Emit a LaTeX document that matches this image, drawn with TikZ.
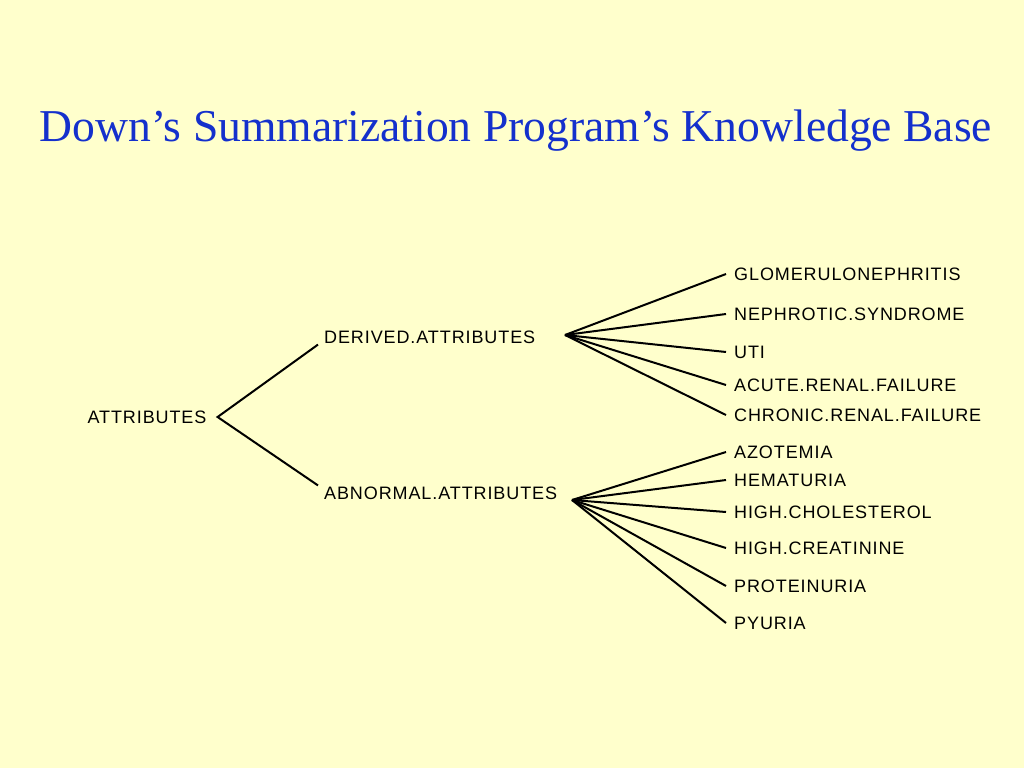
\documentclass[tikz,border=0pt]{standalone}
\usepackage{fontspec}
\setmainfont{Liberation Serif}
\newfontfamily\labelfont[LetterSpace=5]{Liberation Sans}
\usepackage{tikz}
\definecolor{SlideYellow}{HTML}{FFFFCC}
\definecolor{TitleBlue}{HTML}{1430CC}

\begin{document}
\begin{tikzpicture}[
  x=1pt, y=-1pt,
  term/.style={font=\labelfont\fontsize{18}{21}\selectfont, inner xsep=6pt, inner ysep=1pt},
  leaf/.style={term, anchor=west, inner xsep=8pt},
  branch/.style={line width=2pt, draw=black}
]
\fill[SlideYellow] (0,0) rectangle (1024,768);
\useasboundingbox (0,0) rectangle (1024,768);
\node[font=\fontsize{45.6}{50}\selectfont, text=TitleBlue] (title) at (516,131) {Down’s Summarization Program’s Knowledge Base};

\node[term, inner xsep=11pt] (attributes) at (147,417) {ATTRIBUTES};
\node[term, anchor=west] (derived) at (318,337) {DERIVED.ATTRIBUTES};
\node[term, anchor=west] (abnormal) at (318,493) {ABNORMAL.ATTRIBUTES};
\coordinate (derivedhub) at (565,335);
\coordinate (abnormalhub) at (572,500);

\node[leaf] (glomerulo) at (726,274) {GLOMERULONEPHRITIS};
\node[leaf] (nephrotic) at (726,314) {NEPHROTIC.SYNDROME};
\node[leaf] (uti) at (726,352) {UTI};
\node[leaf] (acute) at (726,385) {ACUTE.RENAL.FAILURE};
\node[leaf] (chronic) at (726,415) {CHRONIC.RENAL.FAILURE};

\node[leaf] (azotemia) at (726,452) {AZOTEMIA};
\node[leaf] (hematuria) at (726,480) {HEMATURIA};
\node[leaf] (cholesterol) at (726,512) {HIGH.CHOLESTEROL};
\node[leaf] (creatinine) at (726,548) {HIGH.CREATININE};
\node[leaf] (proteinuria) at (726,586) {PROTEINURIA};
\node[leaf] (pyuria) at (726,623) {PYURIA};

\draw[branch] (derived.south west) -- (attributes.east) -- (abnormal.north west);
\draw[branch] (derivedhub) -- (glomerulo.west);
\draw[branch] (derivedhub) -- (nephrotic.west);
\draw[branch] (derivedhub) -- (uti.west);
\draw[branch] (derivedhub) -- (acute.west);
\draw[branch] (derivedhub) -- (chronic.west);
\draw[branch] (abnormalhub) -- (azotemia.west);
\draw[branch] (abnormalhub) -- (hematuria.west);
\draw[branch] (abnormalhub) -- (cholesterol.west);
\draw[branch] (abnormalhub) -- (creatinine.west);
\draw[branch] (abnormalhub) -- (proteinuria.west);
\draw[branch] (abnormalhub) -- (pyuria.west);
\end{tikzpicture}
\end{document}
